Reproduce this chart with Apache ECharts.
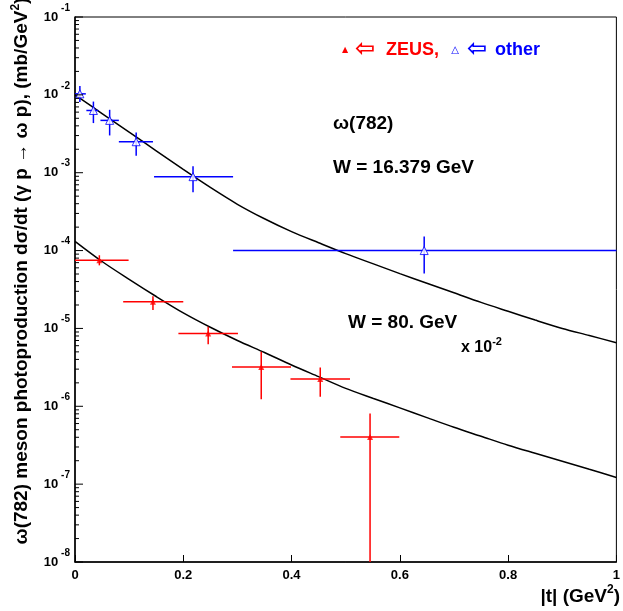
<!DOCTYPE html>
<html>
<head>
<meta charset="utf-8">
<script src="https://cdn.jsdelivr.net/npm/echarts@6/dist/echarts.min.js"></script>
<style>html,body{margin:0;padding:0;background:#fff;}#c{width:623px;height:611px;}</style>
</head>
<body>
<div id="c"></div>
<script>
// ---- data ----
// "other" (blue, open triangles)
const otherT    = [0.009, 0.034, 0.064, 0.113, 0.218, 0.645];
const otherTLo  = [0.000, 0.021, 0.047, 0.081, 0.146, 0.292];
const otherTHi  = [0.020, 0.043, 0.081, 0.144, 0.292, 1.000];
const otherVal  = [1.03e-2, 6.3e-3, 4.7e-3, 2.5e-3, 8.9e-4, 1.0e-4];
const otherLo   = [8.1e-3, 4.34e-3, 3.01e-3, 1.65e-3, 5.6e-4, 5.07e-5];
const otherHi   = [1.30e-2, 8.2e-3, 6.43e-3, 3.29e-3, 1.21e-3, 1.52e-4];
// ZEUS (red, filled triangles), x 10^-2
const zeusT     = [0.045, 0.144, 0.246, 0.344, 0.453, 0.545];
const zeusTLo   = [0.000, 0.089, 0.191, 0.290, 0.398, 0.490];
const zeusTHi   = [0.099, 0.200, 0.301, 0.399, 0.508, 0.599];
const zeusVal   = [7.5e-5, 2.2e-5, 8.6e-6, 3.19e-6, 2.24e-6, 4.04e-7];
const zeusLo    = [6.46e-5, 1.72e-5, 6.24e-6, 1.23e-6, 1.33e-6, 1e-10];
const zeusHi    = [8.7e-5, 2.59e-5, 1.05e-5, 5.0e-6, 3.16e-6, 8.1e-7];
// fitted curves (read at |t| = 0, 0.05, ..., 1)
const curveT    = [0, 0.05, 0.1, 0.15, 0.2, 0.25, 0.3, 0.35, 0.4, 0.45, 0.5, 0.55, 0.6, 0.65, 0.7, 0.75, 0.8, 0.85, 0.9, 0.95, 1.0];
const curveW16  = [1.0e-2, 5.75e-3, 3.32e-3, 1.91e-3, 1.10e-3, 6.46e-4, 3.93e-4, 2.56e-4, 1.75e-4, 1.26e-4, 9.14e-5,
                   6.79e-5, 5.06e-5, 3.81e-5, 2.87e-5, 2.16e-5, 1.66e-5, 1.28e-5, 1.0e-5, 8.11e-6, 6.56e-6];
const curveW80  = [1.315e-4, 7.24e-5, 4.27e-5, 2.57e-5, 1.585e-5, 1.035e-5, 7.0e-6, 4.9e-6, 3.39e-6, 2.40e-6, 1.70e-6,
                   1.27e-6, 9.55e-7, 7.16e-7, 5.37e-7, 4.12e-7, 3.16e-7, 2.49e-7, 1.97e-7, 1.55e-7, 1.22e-7];
// axis ticks
const xTickValues = [0, 0.2, 0.4, 0.6, 0.8, 1];
const yDecades = [-8, -7, -6, -5, -4, -3, -2, -1];
const yMinorMult = [2, 3, 4, 5, 6, 7, 8, 9];

const FONT = 'Liberation Sans, Arial, Helvetica, sans-serif';
const chart = echarts.init(document.getElementById('c'), null, {renderer: 'canvas'});

function pts(t, v) { return t.map((x, i) => [x, v[i]]); }
function errData(t, lo, hi, v, vlo, vhi) { return t.map((x, i) => [x, lo[i], hi[i], v[i], vlo[i], vhi[i]]); }

function errRender(color) {
  return function (params, api) {
    const x = api.value(0), xl = api.value(1), xh = api.value(2);
    const y = api.value(3), yl = api.value(4), yh = api.value(5);
    const pL = api.coord([xl, y]), pH = api.coord([xh, y]);
    const pB = api.coord([x, yl]), pT = api.coord([x, yh]);
    const st = {stroke: color, lineWidth: 1.5};
    return {
      type: 'group',
      children: [
        {type: 'line', shape: {x1: pL[0], y1: pL[1], x2: pH[0], y2: pH[1]}, style: st},
        {type: 'line', shape: {x1: pB[0], y1: pB[1], x2: pT[0], y2: pT[1]}, style: st}
      ]
    };
  };
}

// tick marks: major at each decade, minor at 2..9 x 10^d
const tickData = [];
yDecades.forEach(d => tickData.push([0, Math.pow(10, d), 8]));
yDecades.slice(0, -1).forEach(d => yMinorMult.forEach(m => tickData.push([0, m * Math.pow(10, d), 4])));

const option = {
  backgroundColor: '#fff',
  animation: false,
  grid: {left: 75, right: 3, top: 17, bottom: 49, show: true, borderColor: '#000', borderWidth: 1, backgroundColor: 'transparent'},
  xAxis: {
    type: 'value', min: 0, max: 1, interval: 0.2,
    axisLine: {lineStyle: {color: '#000', width: 1.5}},
    axisTick: {inside: true, length: 7, lineStyle: {color: '#000', width: 1}},
    splitLine: {show: false},
    axisLabel: {
      margin: 7, color: '#000', fontFamily: FONT, fontWeight: 'bold', fontSize: 13,
      formatter: v => (v === 0 ? '0' : (v === 1 ? '1' : v.toFixed(1)))
    }
  },
  yAxis: {
    type: 'log', logBase: 10, min: 1e-8, max: 1e-1,
    axisLine: {lineStyle: {color: '#000', width: 1.5}},
    axisTick: {show: false},
    splitLine: {show: false},
    minorTick: {show: false},
    axisLabel: {
      margin: 5, color: '#000', fontFamily: FONT, fontWeight: 'bold',
      formatter: v => '{b|10}{s|' + Math.round(Math.log10(v)) + '}',
      rich: {
        b: {fontSize: 13, fontWeight: 'bold', fontFamily: FONT, color: '#000', lineHeight: 28},
        s: {fontSize: 10, fontWeight: 'bold', fontFamily: FONT, color: '#000', verticalAlign: 'top', lineHeight: 10, padding: [0, 0, 0, 3]}
      }
    }
  },
  series: [
    {
      type: 'custom', name: 'yTicks', silent: true, z: 10, clip: false,
      data: tickData,
      encode: {x: 0, y: 1},
      renderItem: function (params, api) {
        const p = api.coord([api.value(0), api.value(1)]);
        const len = api.value(2);
        return {type: 'line', shape: {x1: p[0], y1: p[1], x2: p[0] + len, y2: p[1]}, style: {stroke: '#000', lineWidth: 1}};
      }
    },
    {
      type: 'line', name: 'W16', data: pts(curveT, curveW16), smooth: 0.3, showSymbol: false,
      lineStyle: {color: '#000', width: 1.5}, z: 2
    },
    {
      type: 'line', name: 'W80', data: pts(curveT, curveW80), smooth: 0.3, showSymbol: false,
      lineStyle: {color: '#000', width: 1.5}, z: 2
    },
    {
      type: 'custom', name: 'otherErr', clip: true, z: 3,
      data: errData(otherT, otherTLo, otherTHi, otherVal, otherLo, otherHi),
      encode: {x: 0, y: 3},
      renderItem: errRender('#0000ff')
    },
    {
      type: 'custom', name: 'zeusErr', clip: true, z: 3,
      data: errData(zeusT, zeusTLo, zeusTHi, zeusVal, zeusLo, zeusHi),
      encode: {x: 0, y: 3},
      renderItem: errRender('#ff0000')
    },
    {
      type: 'scatter', name: 'other', data: pts(otherT, otherVal), symbol: 'triangle', symbolSize: 8, z: 4,
      itemStyle: {color: '#fff', borderColor: '#0000ff', borderWidth: 1}
    },
    {
      type: 'scatter', name: 'ZEUS', data: pts(zeusT, zeusVal), symbol: 'triangle', symbolSize: 6, z: 4,
      itemStyle: {color: '#ff0000'}
    }
  ],
  graphic: [
    {type: 'text', x: 22, y: 271, rotation: Math.PI / 2,
      style: {text: '{n|ω(782) meson photoproduction dσ/dt (γ p → ω p), (mb/GeV}{s|2}{n|)}', align: 'center', verticalAlign: 'middle',
        rich: {n: {fontFamily: FONT, fontWeight: 'bold', fontSize: 19, color: '#000', lineHeight: 25},
               s: {fontFamily: FONT, fontWeight: 'bold', fontSize: 12, color: '#000', verticalAlign: 'top', lineHeight: 12}}}},
    {type: 'text', x: 620, y: 597,
      style: {text: '{n||t| (GeV}{s|2}{n|)}', align: 'right', verticalAlign: 'middle',
        rich: {n: {fontFamily: FONT, fontWeight: 'bold', fontSize: 19, color: '#000', lineHeight: 26},
               s: {fontFamily: FONT, fontWeight: 'bold', fontSize: 12, color: '#000', verticalAlign: 'top', lineHeight: 12}}}},
    {type: 'text', x: 345, y: 50, style: {text: '▲', fill: '#ff0000', font: '8px DejaVu Sans', align: 'center', verticalAlign: 'middle'}},
    {type: 'text', x: 365, y: 50, style: {text: '⇦', fill: '#ff0000', font: 'bold 24px DejaVu Sans', align: 'center', verticalAlign: 'middle'}},
    {type: 'text', x: 386, y: 50, style: {text: 'ZEUS,', fill: '#ff0000', font: 'bold 18px ' + FONT, align: 'left', verticalAlign: 'middle'}},
    {type: 'text', x: 455, y: 50, style: {text: '△', fill: '#0000ff', font: '10px DejaVu Sans', align: 'center', verticalAlign: 'middle'}},
    {type: 'text', x: 477, y: 50, style: {text: '⇦', fill: '#0000ff', font: 'bold 24px DejaVu Sans', align: 'center', verticalAlign: 'middle'}},
    {type: 'text', x: 495, y: 50, style: {text: 'other', fill: '#0000ff', font: 'bold 18px ' + FONT, align: 'left', verticalAlign: 'middle'}},
    {type: 'text', x: 333, y: 124, style: {text: 'ω(782)', fill: '#000', font: 'bold 19px ' + FONT, align: 'left', verticalAlign: 'middle'}},
    {type: 'text', x: 333, y: 168, style: {text: 'W = 16.379 GeV', fill: '#000', font: 'bold 19px ' + FONT, align: 'left', verticalAlign: 'middle'}},
    {type: 'text', x: 348, y: 323, style: {text: 'W = 80. GeV', fill: '#000', font: 'bold 19px ' + FONT, align: 'left', verticalAlign: 'middle'}},
    {type: 'text', x: 461, y: 348,
      style: {text: '{n|x 10}{s|-2}', align: 'left', verticalAlign: 'middle',
        rich: {n: {fontFamily: FONT, fontWeight: 'bold', fontSize: 16, color: '#000', lineHeight: 24},
               s: {fontFamily: FONT, fontWeight: 'bold', fontSize: 11, color: '#000', verticalAlign: 'top', lineHeight: 11}}}}
  ]
};
chart.setOption(option);
</script>
</body>
</html>
